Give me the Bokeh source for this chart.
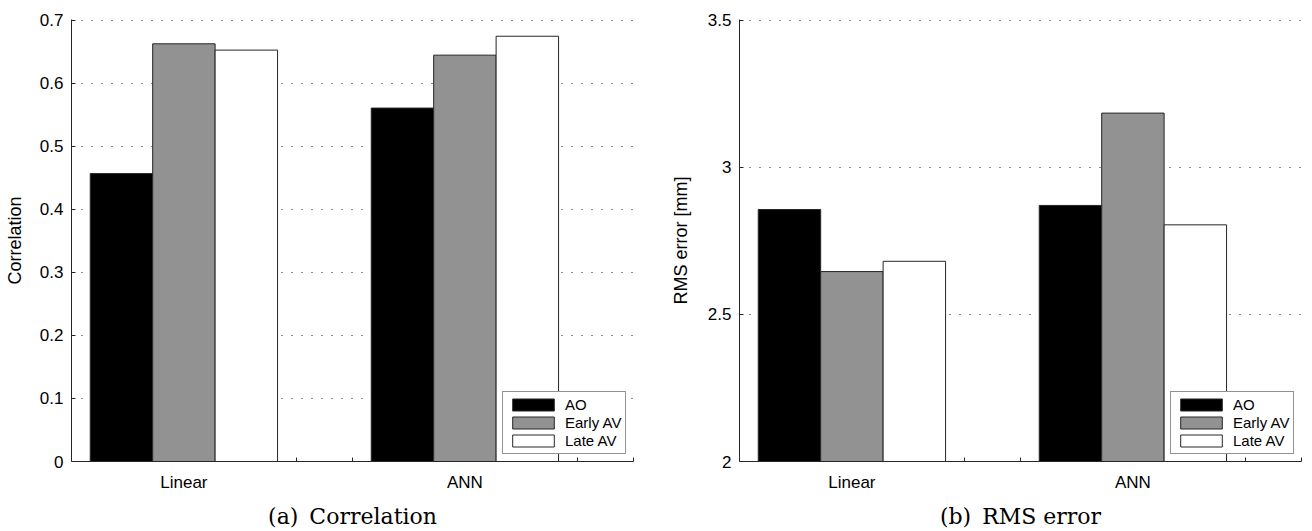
from bokeh.plotting import figure
from bokeh.layouts import row
from bokeh.models import Range1d, FixedTicker, ColumnDataSource
from bokeh.transform import dodge
from bokeh.embed import file_html
from bokeh.resources import INLINE

# ---------------- data ----------------
category_x = [1, 2]
category_labels = ["Linear", "ANN"]
series_names = ["AO", "Early AV", "Late AV"]

corr_ao = [0.457, 0.561]
corr_early = [0.663, 0.645]
corr_late = [0.653, 0.675]

rms_ao = [2.857, 2.871]
rms_early = [2.646, 3.185]
rms_late = [2.681, 2.805]

corr_ticks = [0, 0.1, 0.2, 0.3, 0.4, 0.5, 0.6, 0.7]
corr_tick_labels = ["0", "0.1", "0.2", "0.3", "0.4", "0.5", "0.6", "0.7"]
rms_ticks = [2, 2.5, 3, 3.5]
rms_tick_labels = ["2", "2.5", "3", "3.5"]

# ---------------- style ----------------
COLORS = ["#000000", "#929292", "#ffffff"]
BAR_W = 0.2222
OFFSETS = [-BAR_W, 0.0, BAR_W]
SANS = "Liberation Sans"
SERIF = "DejaVu Serif"
DARK = "#262626"
GRID = "#1a1a1a"
FRAME_H = 443  # one spare pixel on top so the top gridline is visible


def make_panel(series, y0, y1, ticks, tick_labels, ylabel, caption,
               width, border_left, border_right, ylabel_standoff):
    pad = (y1 - y0) / (FRAME_H - 1)
    p = figure(width=width, height=531, output_backend="svg",
               toolbar_location=None, x_range=Range1d(0.6, 2.6),
               y_range=Range1d(y0, y1 + pad),
               min_border_left=border_left, min_border_right=border_right,
               min_border_top=19, min_border_bottom=69)
    data = dict(x=category_x)
    for name, vals in zip(series_names, series):
        data[name] = vals
    src = ColumnDataSource(data)
    for name, color, off in zip(series_names, COLORS, OFFSETS):
        p.vbar(x=dodge("x", off), top=name, bottom=y0, width=BAR_W,
               source=src, fill_color=color, line_color=DARK, line_width=1,
               legend_label=name)

    p.outline_line_color = None
    p.background_fill_color = "white"
    p.border_fill_color = "white"

    # grid
    p.xgrid.visible = False
    p.ygrid.ticker = FixedTicker(ticks=ticks)
    p.ygrid.grid_line_color = GRID
    p.ygrid.grid_line_dash = "1 9"
    p.ygrid.grid_line_width = 1

    # y axis
    yax = p.yaxis[0]
    yax.ticker = FixedTicker(ticks=ticks)
    yax.major_label_overrides = {t: l for t, l in zip(ticks, tick_labels)}
    yax.major_tick_in = 4
    yax.major_tick_out = 0
    yax.minor_tick_in = 0
    yax.minor_tick_out = 0
    yax.major_label_standoff = 8
    yax.axis_line_color = DARK
    yax.major_tick_line_color = DARK
    yax.major_label_text_font = SANS
    yax.major_label_text_font_size = "17px"
    yax.major_label_text_color = "black"
    yax.axis_label = ylabel
    yax.axis_label_text_font = SANS
    yax.axis_label_text_font_style = "normal"
    yax.axis_label_text_font_size = "18px"
    yax.axis_label_text_color = "black"
    yax.axis_label_standoff = ylabel_standoff

    # x axis
    xax = p.xaxis[0]
    xax.ticker = FixedTicker(ticks=category_x,
                             minor_ticks=[1.402, 1.601, 2.334, 2.402, 2.6])
    xax.major_label_overrides = {t: l for t, l in zip(category_x, category_labels)}
    xax.major_tick_in = 0
    xax.major_tick_out = 0
    xax.minor_tick_in = 4
    xax.minor_tick_out = 0
    xax.minor_tick_line_color = DARK
    xax.axis_line_color = DARK
    xax.major_label_standoff = 11
    xax.major_label_text_font = SANS
    xax.major_label_text_font_size = "17px"
    xax.major_label_text_color = "black"
    xax.axis_label = caption
    xax.axis_label_text_font = SERIF
    xax.axis_label_text_font_style = "normal"
    xax.axis_label_text_font_size = "22px"
    xax.axis_label_text_color = "black"
    xax.axis_label_standoff = 9

    # legend
    lg = p.legend[0]
    lg.location = (431, 7)
    lg.margin = 0
    lg.padding = 4
    lg.spacing = 1
    lg.glyph_width = 52
    lg.glyph_height = 15
    lg.label_height = 15
    lg.label_standoff = 6
    lg.label_text_font = SANS
    lg.label_text_font_size = "15px"
    lg.label_text_color = "black"
    lg.border_line_color = DARK
    lg.border_line_width = 1
    lg.background_fill_alpha = 1
    lg.background_fill_color = "white"
    return p


left = make_panel([corr_ao, corr_early, corr_late], 0, 0.7,
                  corr_ticks, corr_tick_labels, "Correlation",
                  "(a)\u2002Correlation", 658, 71, 25, 12)
right = make_panel([rms_ao, rms_early, rms_late], 2, 3.5,
                   rms_ticks, rms_tick_labels, "RMS error [mm]",
                   "(b)\u2002RMS error", 654, 81, 11, 14)

layout = row(left, right)
open("out.html", "w").write(file_html(layout, INLINE))
